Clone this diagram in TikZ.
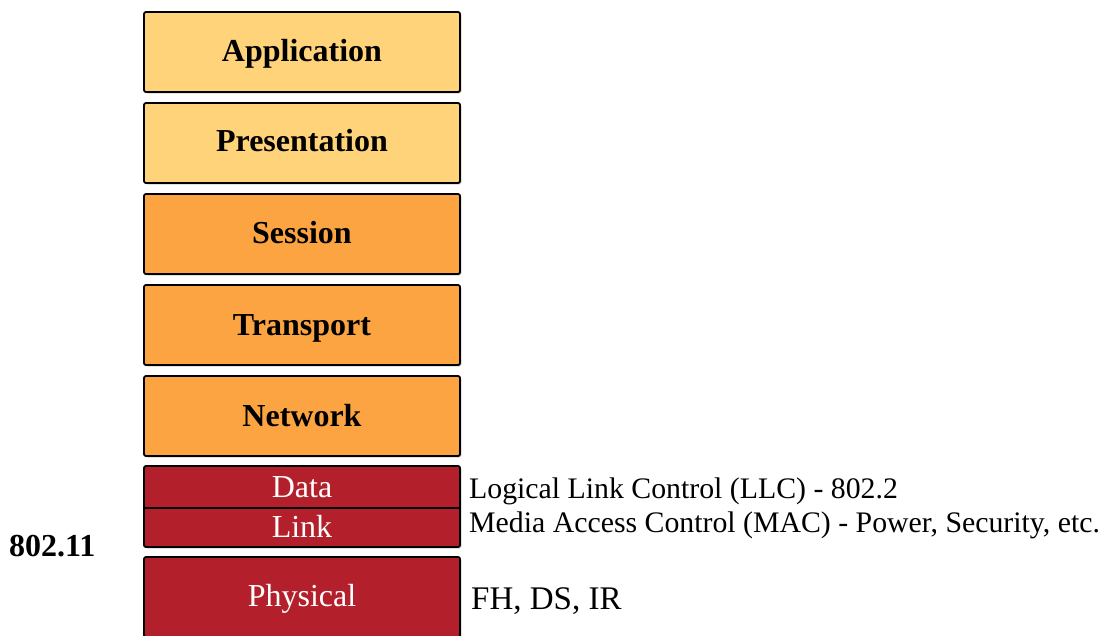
\documentclass[tikz,border=0pt]{standalone}
\usepackage{fontspec}
\setmainfont{Liberation Serif}
\usetikzlibrary{shadows}
\definecolor{cYellow}{RGB}{255,211,122}
\definecolor{cOrange}{RGB}{253,164,66}
\definecolor{cRed}{RGB}{179,32,44}
\tikzset{
  layer/.style={draw=black, line width=1.8pt, rounded corners=2pt,
    minimum width=316pt, minimum height=80pt, inner sep=0pt,
    drop shadow={shadow xshift=1.5pt, shadow yshift=-1.5pt, opacity=0.35}},
  lbl/.style={font=\fontsize{32}{34}\selectfont\bfseries, text=black, anchor=base, inner sep=0pt},
  wlbl/.style={font=\fontsize{32}{34}\selectfont, text=white, anchor=base, inner sep=0pt},
  side/.style={font=\fontsize{29.8}{31}\selectfont, anchor=base west, inner sep=0pt},
}
\begin{document}
\begin{tikzpicture}[x=1pt,y=-1pt]
\useasboundingbox (0,0) rectangle (1105,635);
\node[layer, fill=cYellow] (app) at (302,52) {};
\node[lbl] (appt) at (302,61) {Application};
\node[layer, fill=cYellow] (pre) at (302,143) {};
\node[lbl] (pret) at (302,151) {Presentation};
\node[layer, fill=cOrange] (ses) at (302,234) {};
\node[lbl] (sest) at (302,243) {Session};
\node[layer, fill=cOrange] (tra) at (302,325) {};
\node[lbl] (trat) at (302,335) {Transport};
\node[layer, fill=cOrange] (net) at (302,416) {};
\node[lbl] (nett) at (302,426) {Network};
\node[layer, fill=cRed, minimum height=81pt] (dl) at (302,506.5) {};
\draw[line width=1.8pt] (dl.west |- 0,508) -- (dl.east |- 0,508);
\node[wlbl] (dlt1) at (302,497) {Data};
\node[wlbl] (dlt2) at (302,537) {Link};
\node[layer, fill=cRed] (phy) at (302,597) {};
\node[wlbl] (phyt) at (302,606) {Physical};
\node[side] (llc) at (469,498) {Logical Link Control (LLC) - 802.2};
\node[side] (mac) at (469,532.5) {Media Access Control (MAC) - Power, Security, etc.};
\node[side, font=\fontsize{33}{35}\selectfont] (fh) at (471,609) {FH, DS, IR};
\node[font=\fontsize{32}{34}\selectfont\bfseries, anchor=base west, inner sep=0pt] (std) at (9,556.5) {802.11};
\end{tikzpicture}
\end{document}
